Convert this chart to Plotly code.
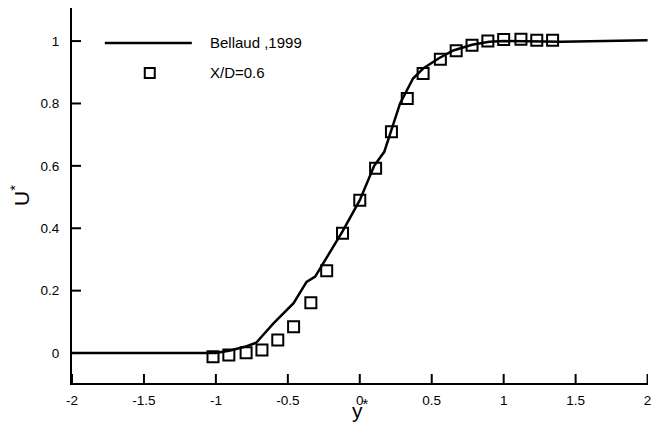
import plotly.graph_objects as go

# Reference solution (Bellaud, 1999)
line_x = [-2.0, -1.5, -1.0, -0.9, -0.8, -0.72, -0.6, -0.46, -0.37, -0.31, -0.24,
          -0.12, 0.0, 0.1, 0.17, 0.28, 0.37, 0.44, 0.55, 0.65, 0.78, 0.9, 1.0,
          1.4, 2.0]
line_y = [0.0, 0.0, 0.0, 0.008, 0.02, 0.033, 0.095, 0.16, 0.228, 0.245, 0.30,
          0.39, 0.49, 0.60, 0.645, 0.80, 0.88, 0.912, 0.945, 0.97, 0.988, 0.998,
          1.0, 0.998, 1.003]

# Measured profile at X/D = 0.6
pts_x = [-1.02, -0.91, -0.79, -0.68, -0.57, -0.46, -0.34, -0.23, -0.12, 0.0,
         0.11, 0.22, 0.33, 0.44, 0.56, 0.67, 0.78, 0.89, 1.0, 1.12, 1.23, 1.34]
pts_y = [-0.012, -0.006, 0.001, 0.01, 0.042, 0.084, 0.161, 0.264, 0.384, 0.49,
         0.592, 0.709, 0.816, 0.896, 0.942, 0.969, 0.987, 1.0, 1.005, 1.006,
         1.003, 1.003]

x_ticks = [-2, -1.5, -1, -0.5, 0, 0.5, 1, 1.5, 2]
x_tick_text = ["-2", "-1.5", "-1", "-0.5", "0", "0.5", "1", "1.5", "2"]
y_ticks = [0, 0.2, 0.4, 0.6, 0.8, 1.0]
y_tick_text = ["0", "0.2", "0.4", "0.6", "0.8", "1"]

FONT = "Liberation Sans, Arial, sans-serif"
INK = "rgb(0,0,0)"
TICK_LEN = 9

fig = go.Figure()
fig.add_trace(go.Scatter(x=line_x, y=line_y, mode="lines",
                         line=dict(color=INK, width=2.5),
                         name="Bellaud ,1999", showlegend=False))
fig.add_trace(go.Scatter(x=pts_x, y=pts_y, mode="markers",
                         marker=dict(symbol="square-open", size=11, color=INK,
                                     line=dict(width=2, color=INK)),
                         name="X/D=0.6", showlegend=False))

# Inward-pointing tick marks at each labelled value
for tv in x_ticks:
    fig.add_shape(type="line", xref="x", yref="paper", ysizemode="pixel",
                  yanchor=0, x0=tv, x1=tv, y0=0, y1=TICK_LEN,
                  line=dict(color=INK, width=2))
for tv in y_ticks:
    fig.add_shape(type="line", xref="paper", yref="y", xsizemode="pixel",
                  xanchor=0, y0=tv, y1=tv, x0=0, x1=TICK_LEN,
                  line=dict(color=INK, width=2))

# Hand-drawn legend in paper coordinates
fig.add_shape(type="line", xref="paper", yref="paper",
              x0=0.057, x1=0.208, y0=0.907, y1=0.907,
              line=dict(color=INK, width=2.5))
fig.add_shape(type="rect", xref="paper", yref="paper",
              xsizemode="pixel", ysizemode="pixel",
              xanchor=0.135, yanchor=0.827, x0=-5, x1=5, y0=-5, y1=5,
              line=dict(color=INK, width=2), fillcolor="rgba(0,0,0,0)")
fig.add_annotation(xref="paper", yref="paper", x=0.236, y=0.907,
                   text="Bellaud ,1999", showarrow=False, xanchor="left",
                   yanchor="middle", font=dict(family=FONT, size=15, color=INK))
fig.add_annotation(xref="paper", yref="paper", x=0.236, y=0.827,
                   text="X/D=0.6", showarrow=False, xanchor="left",
                   yanchor="middle", font=dict(family=FONT, size=15, color=INK))

fig.update_layout(
    width=651, height=422,
    margin=dict(l=72, r=3, t=8, b=39),
    paper_bgcolor="white", plot_bgcolor="white",
    font=dict(family=FONT, size=13.5, color=INK),
    xaxis=dict(range=[-2, 2.003], tickmode="array", tickvals=x_ticks,
               ticktext=x_tick_text, ticklabeloverflow="allow",
               showgrid=False, zeroline=False, showline=True,
               linecolor=INK, linewidth=2, ticks="", automargin=False,
               ticklabelstandoff=4,
               title=dict(text="y<sup>*</sup>", standoff=6,
                          font=dict(family=FONT, size=21))),
    yaxis=dict(range=[-0.096, 1.106], tickmode="array", tickvals=y_ticks,
               ticktext=y_tick_text, ticklabeloverflow="allow",
               showgrid=False, zeroline=False, showline=True,
               linecolor=INK, linewidth=2, ticks="", ticklabelstandoff=8,
               automargin=False,
               title=dict(text="U<sup>*</sup>", standoff=5,
                          font=dict(family=FONT, size=21))),
)

fig.write_html("out.html")
